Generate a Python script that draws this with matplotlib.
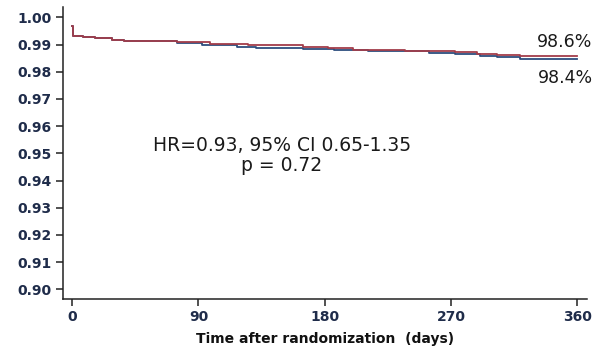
import numpy as np
import matplotlib.pyplot as plt

# Kaplan-Meier step points (days, survival)
red_days = [0, 0.5, 7.8, 16.2, 28.1, 36.8, 74.4, 98.1, 125.2, 164.4, 182.2, 200.0, 237.1, 272.7, 288.4, 302.6, 319.0, 360]
red_surv = [0.9969, 0.9933, 0.9928, 0.9923, 0.9918, 0.9913, 0.9908, 0.9903, 0.9898, 0.9893, 0.9886, 0.9881, 0.9876, 0.9872, 0.9865, 0.9860, 0.9858, 0.9858]

blue_days = [0, 0.5, 7.8, 16.2, 28.1, 36.8, 74.4, 92.2, 117.4, 130.9, 164.4, 186.5, 210.7, 254.1, 272.7, 290.5, 302.6, 319.0, 360]
blue_surv = [0.9969, 0.9933, 0.9928, 0.9923, 0.9918, 0.9913, 0.9906, 0.9898, 0.9893, 0.9888, 0.9884, 0.9879, 0.9875, 0.9870, 0.9865, 0.9858, 0.9853, 0.9848, 0.9848]

x_ticks = [0, 90, 180, 270, 360]
y_ticks = np.round(np.arange(0.90, 1.001, 0.01), 2)

red = '#a23d4a'
blue = '#2d4e7e'
tick_col = '#1f2c4a'

fig = plt.figure(figsize=(5.97, 3.51), dpi=100)
ax = fig.add_axes([0.105, 0.148, 0.878, 0.831])

ax.step(blue_days, blue_surv, where='post', color=blue, lw=1.3)
ax.step(red_days, red_surv, where='post', color=red, lw=1.3)

ax.set_xlim(-6.8, 366.8)
ax.set_ylim(0.8964, 1.0037)
ax.set_xticks(x_ticks)
ax.set_yticks(y_ticks)
ax.set_yticklabels([f'{v:.2f}' for v in y_ticks])

for s in ['top', 'right']:
    ax.spines[s].set_visible(False)
for s in ['left', 'bottom']:
    ax.spines[s].set_linewidth(1.1)
    ax.spines[s].set_color('#222222')

ax.tick_params(axis='both', direction='out', length=5, width=1.1, color='#222222',
               labelsize=10, labelcolor=tick_col, pad=3)
for lab in ax.get_xticklabels() + ax.get_yticklabels():
    lab.set_fontweight('bold')

ax.set_xlabel('Time after randomization  (days)', fontsize=10, fontweight='bold',
              color='#111111', labelpad=6)

ax.text(149.4, 0.9530, 'HR=0.93, 95% CI 0.65-1.35', ha='center', va='center',
        fontsize=13.5, color='#1a1a1a')
ax.text(149.4, 0.9457, 'p = 0.72', ha='center', va='center',
        fontsize=13.5, color='#1a1a1a')
ax.text(371, 0.9909, '98.6%', ha='right', va='center', fontsize=12.5, color='#1a1a1a')
ax.text(371, 0.9777, '98.4%', ha='right', va='center', fontsize=12.5, color='#1a1a1a')

fig.savefig('out.png', dpi=100)
